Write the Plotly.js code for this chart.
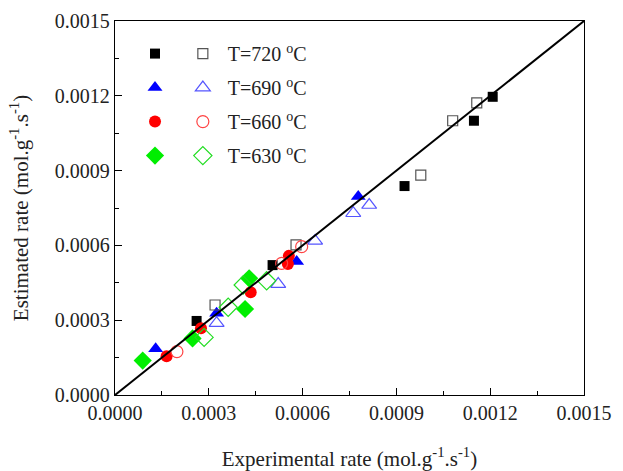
<!DOCTYPE html>
<html>
<head>
<meta charset="utf-8">
<script src="https://cdn.plot.ly/plotly-3.0.1.min.js"></script>
<style>html,body{margin:0;padding:0;background:#fff;}#chart{width:623px;height:471px;}</style>
</head>
<body>
<div id="chart"></div>
<script>
// Data (experimental rate, estimated rate) in mol.g-1.s-1
var x720f = [0.000261, 0.000504, 0.000926, 0.001148, 0.001208];
var y720f = [0.000297, 0.000521, 0.000838, 0.001100, 0.001196];
var x720o = [0.000320, 0.000579, 0.000978, 0.001080, 0.001157];
var y720o = [0.000361, 0.000602, 0.000882, 0.001100, 0.001172];

var x690f = [0.000130, 0.000325, 0.000581, 0.000778];
var y690f = [0.000185, 0.000328, 0.000535, 0.000796];
var x690o = [0.000325, 0.000522, 0.000640, 0.000762, 0.000813];
var y690o = [0.000288, 0.000445, 0.000618, 0.000729, 0.000762];

var x660f = [0.000165, 0.000275, 0.000434, 0.000556, 0.000553];
var y660f = [0.000155, 0.000268, 0.000412, 0.000558, 0.000525];
var x660o = [0.000198, 0.000533, 0.000597];
var y660o = [0.000174, 0.000528, 0.000595];

var x630f = [0.0000886, 0.000248, 0.000416, 0.000429];
var y630f = [0.000138, 0.000227, 0.000345, 0.000468];
var x630o = [0.000285, 0.000362, 0.000410, 0.000485];
var y630o = [0.000231, 0.000352, 0.000441, 0.000458];

var parityX = [0, 0.0015];
var parityY = [0, 0.0015];

var seriesNames = ['T=720 <sup>o</sup>C', 'T=690 <sup>o</sup>C', 'T=660 <sup>o</sup>C', 'T=630 <sup>o</sup>C'];
var tickVals = [0, 0.0003, 0.0006, 0.0009, 0.0012, 0.0015];

var FONT = 'Liberation Serif, Times New Roman, serif';

function filled(x, y, sym, col, size, i) {
  return {x: x, y: y, type: 'scatter', mode: 'markers', name: ' ',
    legend: 'legend', legendgroup: 'f' + i,
    marker: {symbol: sym, color: col, size: size, line: {width: 0}}};
}
function open(x, y, sym, col, size, i) {
  return {x: x, y: y, type: 'scatter', mode: 'markers', name: seriesNames[i],
    legend: 'legend2', legendgroup: 'o' + i,
    marker: {symbol: sym + '-open', color: col, size: size, line: {width: 1.2, color: col}}};
}

var traces = [
  filled(x720f, y720f, 'square', '#000000', 10, 0),
  filled(x690f, y690f, 'triangle-up', '#0000ff', 13, 1),
  filled(x660f, y660f, 'circle', '#ff0000', 12, 2),
  filled(x630f, y630f, 'diamond', '#00ee00', 14, 3),
  open(x720o, y720o, 'square', '#555555', 10, 0),
  open(x690o, y690o, 'triangle-up', '#5555ff', 13, 1),
  open(x660o, y660o, 'circle', '#ff4444', 12, 2),
  open(x630o, y630o, 'diamond', '#22dd22', 14, 3),
  {x: parityX, y: parityY, type: 'scatter', mode: 'lines', showlegend: false,
   line: {color: '#000000', width: 2}}
];

var axisCommon = {
  range: [0, 0.0015], tickvals: tickVals, tickformat: '.4f',
  ticks: 'inside', ticklen: 7, tickwidth: 1, tickcolor: '#000',
  minor: {ticks: 'inside', ticklen: 4, dtick: 0.00015, tick0: 0, tickcolor: '#000', tickwidth: 1},
  showline: true, linecolor: '#000', linewidth: 1.3, mirror: true,
  showgrid: false, zeroline: false,
  tickfont: {family: FONT, size: 20, color: '#222'}
};

var layout = {
  width: 623, height: 471,
  margin: {l: 115, r: 39, t: 21, b: 76},
  paper_bgcolor: '#ffffff', plot_bgcolor: '#ffffff',
  font: {family: FONT, color: '#222'},
  xaxis: Object.assign({}, axisCommon, {
    title: {text: 'Experimental rate (mol.g<sup>-1</sup>.s<sup>-1</sup>)', font: {family: FONT, size: 21, color: '#222'}, standoff: 28}
  }),
  yaxis: Object.assign({}, axisCommon, {
    title: {text: 'Estimated rate (mol.g<sup>-1</sup>.s<sup>-1</sup>)', font: {family: FONT, size: 21, color: '#222'}, standoff: 20}
  }),
  legend: {x: 0.032, y: 0.965, xanchor: 'left', yanchor: 'top', itemwidth: 40,
    bgcolor: 'rgba(0,0,0,0)', borderwidth: 0, tracegroupgap: 5,
    font: {family: FONT, size: 20, color: '#222'}},
  legend2: {x: 0.134, y: 0.965, xanchor: 'left', yanchor: 'top', itemwidth: 40,
    bgcolor: 'rgba(0,0,0,0)', borderwidth: 0, tracegroupgap: 5,
    font: {family: FONT, size: 20, color: '#222'}},
  showlegend: true
};

Plotly.newPlot('chart', traces, layout, {displayModeBar: false, staticPlot: true});
</script>
</body>
</html>
